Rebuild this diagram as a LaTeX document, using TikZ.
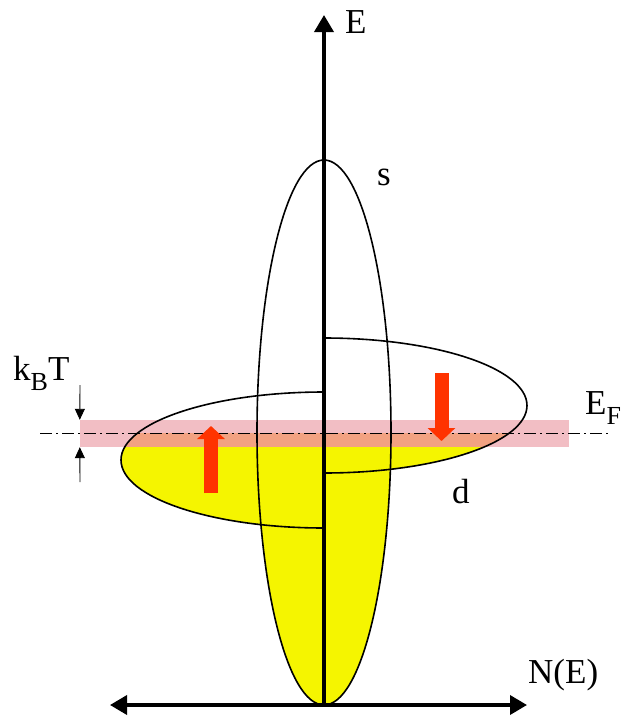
\documentclass[tikz,border=0pt]{standalone}
\usepackage{fontspec}
\setmainfont{Liberation Serif}
\usetikzlibrary{arrows.meta}
\definecolor{dosyellow}{RGB}{245,245,0}
\definecolor{bandpink}{RGB}{242,190,196}
\definecolor{bandsalmon}{RGB}{242,162,130}
\definecolor{spinred}{RGB}{255,51,0}
\newcommand\lowsub[1]{\raisebox{-0.3em}{\fontsize{26}{26}\selectfont #1}}
\begin{document}
\begin{tikzpicture}[x=1pt,y=-1pt,
        axis/.style={line width=3.6pt},
        band/.style={fill=bandpink,inner sep=0pt,minimum width=489pt,minimum height=27pt},
        spin/.style={draw=spinred,line width=14pt,-{Triangle[length=13pt,width=27pt]}},
        tick/.style={line width=0.9pt,-{Triangle[length=11pt,width=10pt]}},
        lbl/.style={anchor=base west,inner sep=0pt,font=\fontsize{35}{40}\selectfont}]
    \useasboundingbox(0,0)rectangle(627,718);
    % axes and curve points
    \coordinate(O)at(324,705);
    \coordinate(Etop)at(324,15);
    \coordinate(Nleft)at(110,705);
    \coordinate(Nright)at(527,705);
    \coordinate(sC)at(324,432.5);
    \coordinate(dupTop)at(324,338);
    \coordinate(ddnTop)at(324,392);
    % thermal band round E_F
    \node[band](kT)at(324.5,433.5){};
    \foreach \ya/\yb/\col in {433/447/bandsalmon,447/718/dosyellow}{
        \begin{scope}
            \clip(0,\ya)rectangle(627,\yb);
            \fill[\col](sC)ellipse[x radius=67pt,y radius=272.5pt];
            \fill[\col](dupTop)arc[start angle=90,end angle=-90,x radius=203pt,y radius=67.5pt]--cycle;
            \fill[\col](ddnTop)arc[start angle=90,end angle=270,x radius=203pt,y radius=68pt]--cycle;
        \end{scope}
    }
    \coordinate(EFleft)at(40,433);
    \coordinate(EFright)at(610,433);
    \draw[line width=0.9pt,dash pattern=on 12pt off 4pt on 2pt off 4pt](EFleft)--(EFright);
    % s and d densities of states
    \draw[line width=1.6pt](sC)ellipse[x radius=67pt,y radius=272.5pt];
    \draw[line width=1.6pt](dupTop)arc[start angle=90,end angle=-90,x radius=203pt,y radius=67.5pt];
    \draw[line width=1.6pt](ddnTop)arc[start angle=90,end angle=270,x radius=203pt,y radius=68pt];
    \draw[axis,-{Triangle[length=17pt,width=19pt]}](O)--(Etop);
    \draw[axis,{Triangle[length=17pt,width=19pt]}-{Triangle[length=17pt,width=19pt]}](Nleft)--(Nright);
    % spins
    \coordinate(upA)at(211,493);
    \coordinate(upB)at(211,426);
    \coordinate(dnA)at(441.5,373);
    \coordinate(dnB)at(441.5,441);
    \draw[spin](upA)--(upB);
    \draw[spin](dnA)--(dnB);
    % k_B T marks
    \coordinate(kTa)at(80,385);
    \coordinate(kTb)at(80,482);
    \draw[tick](kTa)--(kT.north west);
    \draw[tick](kTb)--(kT.south west);
    % labels
    \node[lbl](Elbl)at(345,33){E};
    \node[lbl](slbl)at(377,185){s};
    \node[lbl](NElbl)at(528,683){N(E)};
    \node[lbl](dlbl)at(452,503){d};
    \node[lbl](EFlbl)at(585,414){E\lowsub{F}};
    \node[lbl](kBTlbl)at(13,380){k\lowsub{B}T};
\end{tikzpicture}
\end{document}
